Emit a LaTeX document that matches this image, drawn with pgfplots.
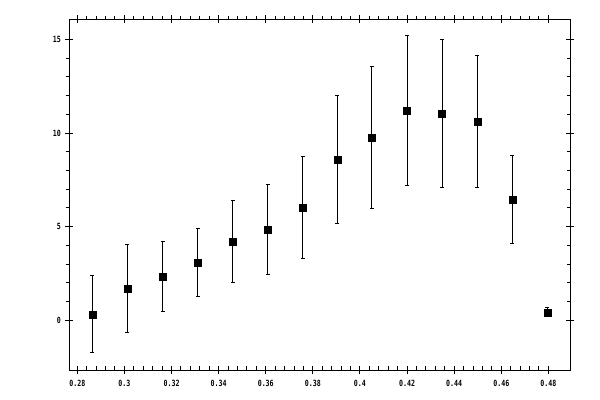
\documentclass[border=0pt]{standalone}
\usepackage{fontspec}
\usepackage{pgfplots}
\pgfplotsset{compat=1.18}
\newfontfamily\tickfont[FakeStretch=0.78]{DejaVu Sans Mono Bold}

\begin{document}
\begin{tikzpicture}
\begin{axis}[
    at={(0,0)}, anchor=south west,
    scale only axis,
    width=501bp, height=350.7bp,
    xmin=0.2766, xmax=0.4893,
    ymin=-2.65, ymax=16.07,
    xtick={0.28,0.3,...,0.481},
    ytick={0,5,10,15},
    minor x tick num=4,
    minor y tick num=4,
    tick align=center,
    major tick length=8bp,
    minor tick length=3.7bp,
    minor x tick style={yshift=1.85bp},
    minor y tick style={xshift=-1.85bp},
    tick style={black, line width=1bp},
    axis line style={line width=1bp},
    xtick pos=both, ytick pos=both,
    xticklabel pos=bottom, yticklabel pos=left,
    tick label style={font=\tickfont\fontsize{8.5bp}{10bp}\selectfont},
    /pgf/number format/assume math mode=true,
    xticklabel style={yshift=-2.5bp},
    yticklabel style={xshift=-1bp},
]
\addplot[black, only marks, mark=square*, mark size=3.5bp,
    error bars/.cd, y dir=both, y explicit,
    error bar style={line width=1bp},
    error mark options={rotate=90, mark size=2bp, line width=1bp}]
table[x=x, y=y, y error=e] {
x       y      e
0.2864  0.32   2.05
0.3013  1.70   2.36
0.3162  2.34   1.89
0.3311  3.09   1.81
0.3460  4.21   2.21
0.3609  4.85   2.42
0.3757  6.02   2.72
0.3904  8.58   3.41
0.4051  9.75   3.78
0.4200  11.19  4.00
0.4349  11.03  3.94
0.4498  10.60  3.52
0.4647  6.45   2.33
0.4796  0.43   0.25
};
\end{axis}
\pgfresetboundingbox
\useasboundingbox (-69.3bp,-30bp) rectangle (530.7bp,370bp);
\end{tikzpicture}
\end{document}
